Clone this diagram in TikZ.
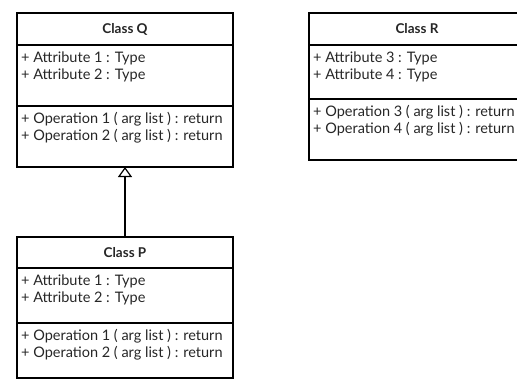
\documentclass[tikz,border=0pt]{standalone}
\usepackage{fontspec}
\setmainfont{Lato}
\usetikzlibrary{arrows.meta, positioning}

\tikzset{
    compartment/.style={rectangle, draw, line width=1.4pt, minimum width=216pt,
                        inner sep=0pt, outer sep=0pt},
    members/.style={anchor=north west, align=left, inner sep=0pt, text=black!85,
                    font=\fontsize{14.5}{17}\selectfont},
    classname/.style={font=\fontsize{13.5}{15}\selectfont\bfseries, text=black!85},
    inherit/.style={-{Triangle[open, length=10pt, width=14pt]}, line width=1.2pt}
}

\begin{document}
\begin{tikzpicture}[x=1pt, y=-1pt]
    \useasboundingbox (0,0) rectangle (517,378);
    \clip (0,0) rectangle (517,378);

    % Class Q
    \node[compartment, minimum height=32pt] (Qt) at (125,29) {};
    \node[compartment, minimum height=61pt, below=0pt of Qt] (Qa) {};
    \node[compartment, minimum height=61pt, below=0pt of Qa] (Qo) {};
    \node[classname] (Qname) at (Qt.center) {Class Q};
    \node[members] (Qattr) at ([xshift=4pt, yshift=-7pt]Qa.north west)
        {+ Attribute 1 : Type\\+ Attribute 2 : Type};
    \node[members] (Qops) at ([xshift=4pt, yshift=-6pt]Qo.north west)
        {+ Operation 1 ( arg list ) : return\\+ Operation 2 ( arg list ) : return};

    % Class R
    \node[compartment, minimum height=32pt] (Rt) at (417,29) {};
    \node[compartment, minimum height=54pt, below=0pt of Rt] (Ra) {};
    \node[compartment, minimum height=61pt, below=0pt of Ra] (Ro) {};
    \node[classname] (Rname) at (Rt.center) {Class R};
    \node[members] (Rattr) at ([xshift=4pt, yshift=-7pt]Ra.north west)
        {+ Attribute 3 : Type\\+ Attribute 4 : Type};
    \node[members] (Rops) at ([xshift=4pt, yshift=-6pt]Ro.north west)
        {+ Operation 3 ( arg list ) : return\\+ Operation 4 ( arg list ) : return};

    % Class P
    \node[compartment, minimum height=31pt] (Pt) at (125,252.5) {};
    \node[compartment, minimum height=55pt, below=0pt of Pt] (Pa) {};
    \node[compartment, minimum height=55pt, below=0pt of Pa] (Po) {};
    \node[classname] (Pname) at (Pt.center) {Class P};
    \node[members] (Pattr) at ([xshift=4pt, yshift=-7pt]Pa.north west)
        {+ Attribute 1 : Type\\+ Attribute 2 : Type};
    \node[members] (Pops) at ([xshift=4pt, yshift=-6pt]Po.north west)
        {+ Operation 1 ( arg list ) : return\\+ Operation 2 ( arg list ) : return};

    % Generalization
    \draw[inherit] (Pt.north) -- (Qo.south);
\end{tikzpicture}
\end{document}
